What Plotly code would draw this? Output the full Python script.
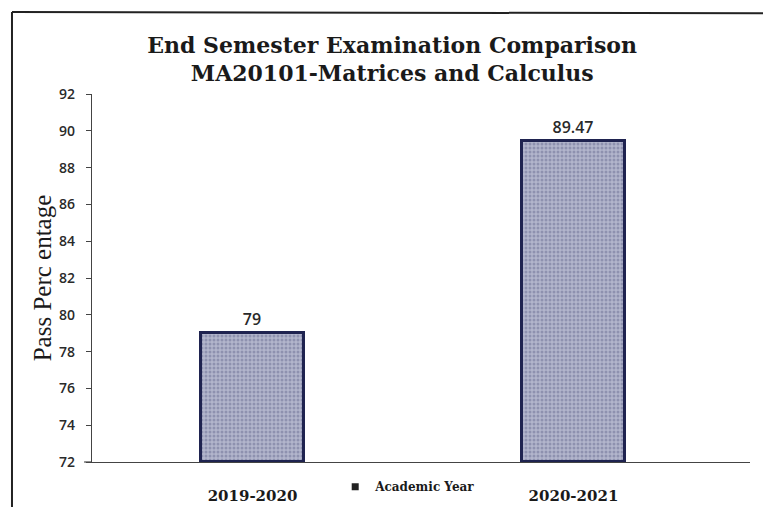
import plotly.graph_objects as go

# Pass percentages for the end-semester exam, by academic year
years = ["2019-2020", "2020-2021"]
pass_pct = [79, 89.47]
value_labels = ["79", "89.47"]
series_name = "Academic Year"
y_ticks = [72, 74, 76, 78, 80, 82, 84, 86, 88, 90, 92]

fig = go.Figure()
fig.add_trace(go.Bar(
    x=years,
    y=[v - 72 for v in pass_pct],
    base=72,
    name=series_name,
    width=0.32,
    text=value_labels,
    textposition="outside",
    textfont=dict(family="Open Sans", size=16, color="#2a2a2a", weight=600),
    cliponaxis=False,
    marker=dict(
        color="#a3a6c2",
        line=dict(color="#1f2350", width=3),
        pattern=dict(shape=".", fgcolor="#6a6e92", bgcolor="#b2b5cc",
                     size=4, solidity=0.45),
    ),
    showlegend=False,
))

# legend entry: small dark square key
fig.add_trace(go.Scatter(
    x=[None], y=[None], mode="markers", name=series_name,
    marker=dict(symbol="square", color="#222", size=7),
    showlegend=True,
))

fig.update_layout(
    width=763, height=507,
    margin=dict(l=92, r=13, t=94, b=45),
    paper_bgcolor="white",
    plot_bgcolor="white",
    bargap=0,
    title=dict(
        text="End Semester Examination Comparison<br>MA20101-Matrices and Calculus",
        x=0.514, xanchor="center", y=0.896, yanchor="middle",
        font=dict(family="DejaVu Serif", size=22, color="#1a1a1a", weight="bold"),
    ),
    xaxis=dict(
        type="category",
        range=[-0.5, 1.55],
        automargin=False,
        showline=True, linecolor="#444", linewidth=1.2,
        showgrid=False, ticks="",
        tickfont=dict(family="DejaVu Serif", size=15, color="#1a1a1a", weight="bold"),
        ticklabelstandoff=20,
    ),
    yaxis=dict(
        range=[72, 92],
        tickvals=y_ticks,
        automargin=False,
        showline=True, linecolor="#444", linewidth=1.2,
        showgrid=False, zeroline=False,
        ticks="outside", ticklen=5, tickcolor="#444",
        tickfont=dict(family="Open Sans", size=14, color="#2a2a2a", weight=600),
        ticklabelstandoff=8,
        title=dict(text="Pass Perc entage", standoff=0,
                   font=dict(family="Liberation Serif", size=25, color="#1a1a1a")),
    ),
    legend=dict(
        orientation="h",
        xref="container", yref="container",
        x=0.535, xanchor="center",
        y=0.04, yanchor="middle",
        font=dict(family="DejaVu Serif", size=12, color="#1a1a1a", weight="bold"),
        itemwidth=30,
    ),
    shapes=[
        # outer chart frame (top and left edges)
        dict(type="line", xref="paper", yref="paper",
             x0=-0.1216, x1=1.1, y0=1.2228, y1=1.219,
             line=dict(color="#222", width=2)),
        dict(type="line", xref="paper", yref="paper",
             x0=-0.1216, x1=-0.1216, y0=1.2228, y1=-0.2,
             line=dict(color="#222", width=2)),
        # baseline stub running just past the value axis
        dict(type="line", xref="paper", yref="paper",
             x0=-0.012, x1=0, y0=0, y1=0,
             line=dict(color="#444", width=1.2)),
    ],
)

fig.write_html("out.html")
